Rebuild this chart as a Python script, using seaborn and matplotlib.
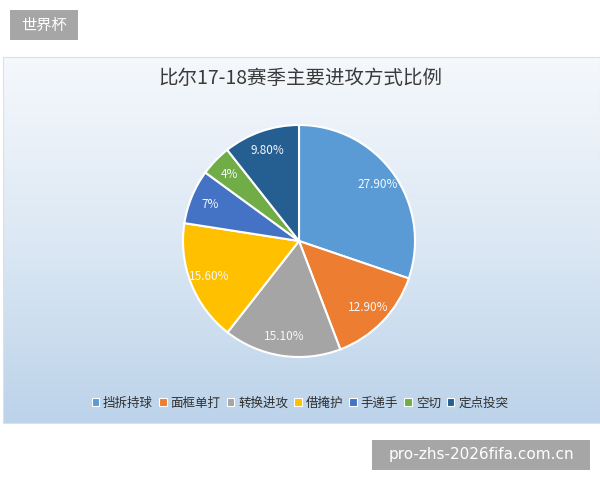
import matplotlib
matplotlib.use("Agg")
import matplotlib.pyplot as plt
from matplotlib.colors import LinearSegmentedColormap
from matplotlib.patches import Patch
import seaborn as sns
import numpy as np

categories = ["挡拆持球", "面框单打", "转换进攻", "借掩护", "手递手", "空切", "定点投突"]
values = [27.9, 12.9, 15.1, 15.6, 7, 4, 9.8]
value_labels = ["27.90%", "12.90%", "15.10%", "15.60%", "7%", "4%", "9.80%"]
colors = ["#5B9BD5", "#ED7D31", "#A5A5A5", "#FFC000", "#4472C4", "#70AD47", "#255E91"]
title = "比尔17-18赛季主要进攻方式比例"

sns.set_theme(style="white")
plt.rcParams["font.family"] = ["Noto Sans CJK SC", "DejaVu Sans"]

W, H = 600, 480
fig = plt.figure(figsize=(6, 4.8), dpi=100)
fig.patch.set_facecolor("white")

# chart area with vertical gradient
bg = fig.add_axes([3 / W, (H - 423) / H, 597 / W, (423 - 57) / H])
cmap = LinearSegmentedColormap.from_list("bg", ["#bcd3ea", "#dce8f4", "#f5f8fc"])
grad = np.linspace(0, 1, 256).reshape(-1, 1)
bg.imshow(grad, aspect="auto", cmap=cmap, origin="lower", extent=[0, 1, 0, 1])
bg.set_xlim(0, 1)
bg.set_ylim(0, 1)
bg.set_xticks([])
bg.set_yticks([])
for s in bg.spines.values():
    s.set_color("#e0e0e0")
    s.set_linewidth(0.8)

fig.text(300 / W, 1 - 78 / H, title, ha="center", va="center",
         fontsize=14, color="#3a3a3a")

# pie
cx, cy, r = 299, 241, 116
ax = fig.add_axes([(cx - r) / W, (H - cy - r) / H, 2 * r / W, 2 * r / H])
wedges, texts = ax.pie(values, colors=colors, startangle=90, counterclock=False,
                       wedgeprops=dict(edgecolor="white", linewidth=1.5),
                       labels=None)
for w, lab in zip(wedges, value_labels):
    ang = np.deg2rad((w.theta1 + w.theta2) / 2)
    ax.text(0.83 * np.cos(ang), 0.83 * np.sin(ang), lab, ha="center", va="center",
            fontsize=8.5, color="#f4f8fc")
ax.set_xlim(-1.0, 1.0)
ax.set_ylim(-1.0, 1.0)
ax.set_aspect("equal")
ax.axis("off")

handles = [Patch(facecolor=c, edgecolor="white", linewidth=0.8) for c in colors]
fig.legend(handles, categories, loc="center", bbox_to_anchor=(300 / W, 1 - 403 / H),
           ncol=7, frameon=False, fontsize=9, handlelength=0.6, handleheight=0.6,
           handletextpad=0.3, columnspacing=0.5, labelcolor="#303030")

# top-left tag
fig.patches.append(plt.Rectangle((10 / W, 1 - 40 / H), 68 / W, 30 / H,
                                 transform=fig.transFigure, facecolor="#a6a6a6",
                                 edgecolor="none"))
fig.text(44 / W, 1 - 25 / H, "世界杯", ha="center", va="center",
         fontsize=11, color="white")

# bottom-right watermark
fig.patches.append(plt.Rectangle((372 / W, 1 - 470 / H), 218 / W, 30 / H,
                                 transform=fig.transFigure, facecolor="#a6a6a6",
                                 edgecolor="none"))
fig.text(481 / W, 1 - 455 / H, "pro-zhs-2026fifa.com.cn", ha="center", va="center",
         fontsize=11, color="white", family="DejaVu Sans")

fig.savefig("out.png", dpi=100)
